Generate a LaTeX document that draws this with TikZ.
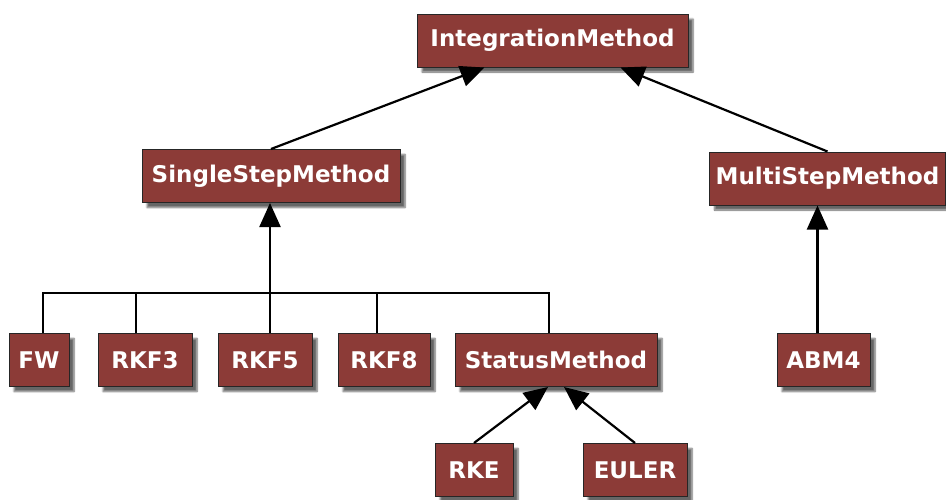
\documentclass[tikz,border=0pt]{standalone}
\usepackage{fontspec}
\setsansfont{DejaVu Sans}
\usepackage{tikz}
\usetikzlibrary{arrows.meta,positioning,calc,shadows.blur}
\definecolor{boxred}{RGB}{140,59,55}

\begin{document}
\begin{tikzpicture}[
  x=1pt, y=-1pt,
  font=\sffamily\bfseries\fontsize{23}{27}\selectfont,
  box/.style={rectangle, draw=black!85, line width=1pt, fill=boxred,
              text=white, minimum height=53pt, inner xsep=0pt,
              blur shadow={shadow xshift=5pt, shadow yshift=-5pt,
                           shadow blur steps=6, shadow opacity=60}},
  arr/.style={-{Triangle[length=24pt, width=21pt]}, line width=2.2pt},
  link/.style={line width=2.2pt}
]
  \useasboundingbox (0,0) rectangle (946,499);
  % classes
  \node[box, minimum width=271pt] (im)  at (552.5,40.5) {IntegrationMethod};
  \node[box, minimum width=258pt] (ssm) at (271,176) {SingleStepMethod};
  \node[box, minimum width=236pt] (msm) at (827.5,178.5) {MultiStepMethod};
  \node[box, minimum width=60pt]  (fw)   at (39,360)  {FW};
  \node[box, minimum width=94pt]  (rkf3) at (145,360) {RKF3};
  \node[box, minimum width=94pt]  (rkf5) at (265,360) {RKF5};
  \node[box, minimum width=92pt]  (rkf8) at (384,360) {RKF8};
  \node[box, minimum width=202pt] (stm)  at (556,360) {StatusMethod};
  \node[box, minimum width=93pt]  (abm)  at (823.5,360) {ABM4};
  \node[box, minimum width=78pt]  (rke)   at (474,470) {RKE};
  \node[box, minimum width=104pt] (euler) at (635,470) {EULER};
  % inheritance
  \draw[arr] (ssm.north) -- ($(im.south west)!0.25!(im.south east)$);
  \draw[arr] (msm.north) -- ($(im.south west)!0.75!(im.south east)$);
  \coordinate (bus) at (270,293);
  \draw[arr] ([xshift=5pt]rkf5.north) -- (bus) -- (bus |- ssm.south);
  \draw[link] ([xshift=4pt]fw.north) |- (bus);
  \draw[link] ([xshift=-9pt]rkf3.north) |- (bus);
  \draw[link] ([xshift=-7pt]rkf8.north) |- (bus);
  \draw[link] ([xshift=-7pt]stm.north) |- (bus);
  \draw[arr] ([xshift=-6pt]abm.north) -- ([xshift=-6pt]abm.north |- msm.south);
  \draw[arr] (rke.north) -- ([xshift=-8pt]stm.south);
  \draw[arr] (euler.north) -- ([xshift=8pt]stm.south);
\end{tikzpicture}
\end{document}
